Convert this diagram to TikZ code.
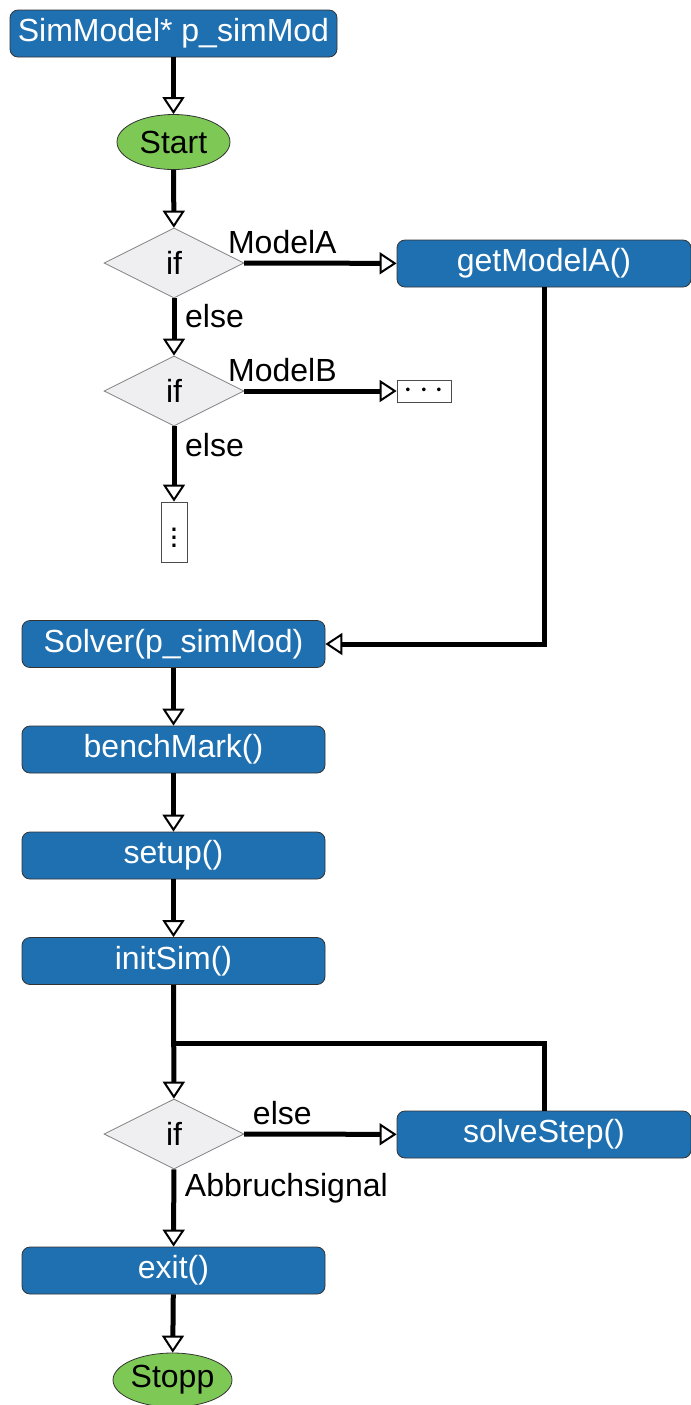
\documentclass[tikz,border=0pt]{standalone}
\usepackage{fontspec}
\setmainfont{Liberation Sans}
\usetikzlibrary{shapes.geometric,arrows.meta}
\definecolor{boxblue}{RGB}{31,112,177}
\definecolor{termgreen}{RGB}{126,201,86}
\definecolor{ifgrey}{RGB}{239,239,242}

\begin{document}
\begin{tikzpicture}[x=0.5pt,y=-0.5pt,every node/.style={font=\fontsize{16}{19}\selectfont}]

\tikzset{BoxStyle/.style={draw=black!80,fill=boxblue,text=white,rounded corners=4pt,minimum height=23.5pt,inner sep=0pt},
  TermStyle/.style={draw=black!80,ellipse,fill=termgreen,inner sep=0pt},
  IfStyle/.style={draw=black!50,diamond,fill=ifgrey,aspect=2,minimum width=70pt,minimum height=35pt,inner sep=0pt},
  DotStyle/.style={draw=black!70,fill=white,inner sep=0pt},
  EdgeStyle/.style={line width=2.5pt,-{Triangle[open,length=8.5pt,width=11pt,line width=1pt]}}}
  \useasboundingbox (0,0) rectangle (691,1405);

  \node[BoxStyle,minimum width=163.5pt] (sm) at (173.5,33.5) {SimModel* p\_simMod};
  \node[TermStyle,minimum width=56.5pt,minimum height=27.5pt] (st) at (173.5,142) {Start};

  \node[IfStyle] (if1) at (174,263) {if};
  \node[BoxStyle,minimum width=147pt] (ga) at (544,263.5) {getModelA()};
  \node[IfStyle] (if2) at (174,391) {if};
  \node[DotStyle,minimum width=27pt,minimum height=11pt] (dh) at (424,391) {$\cdots$};
  \node[DotStyle,minimum width=13pt,minimum height=30pt] (dv) at (174,532) {$\vdots$};

  \node[BoxStyle,minimum width=151.5pt] (sv) at (173.5,644) {Solver(p\_simMod)};
  \node[BoxStyle,minimum width=151.5pt] (bm) at (173.5,749.5) {benchMark()};
  \node[BoxStyle,minimum width=151.5pt] (su) at (173.5,855.5) {setup()};
  \node[BoxStyle,minimum width=151.5pt] (in) at (173.5,961) {initSim()};

  \coordinate (lp) at (174,1043);
  \node[IfStyle] (if3) at (174,1134) {if};
  \node[BoxStyle,minimum width=147pt] (ss) at (544,1134.5) {solveStep()};
  \node[BoxStyle,minimum width=151.5pt] (ex) at (173.5,1270.5) {exit()};
  \node[TermStyle,minimum width=59.5pt,minimum height=27pt] (sp) at (172.5,1380) {Stopp};

  \draw[EdgeStyle] (sm) -- (st);
  \draw[EdgeStyle] (st) -- (if1);
  \draw[EdgeStyle] (if1) -- node[above,pos=0.25] {ModelA} (ga);
  \draw[EdgeStyle] (if1) -- node[right,pos=0.3,xshift=1pt] {else} (if2);
  \draw[EdgeStyle] (if2) -- node[above,pos=0.25] {ModelB} (dh);
  \draw[EdgeStyle] (if2) -- node[right,pos=0.25,xshift=1pt] {else} (dv);

  \draw[EdgeStyle] (ga.south) |- (sv);
  \draw[EdgeStyle] (sv) -- (bm);
  \draw[EdgeStyle] (bm) -- (su);
  \draw[EdgeStyle] (su) -- (in);

  \draw[EdgeStyle] (in) -- (if3);
  \draw[line width=2.5pt] (ss) |- (lp);
  \draw[EdgeStyle] (if3) -- node[above,pos=0.25] {else} (ss);
  \draw[EdgeStyle] (if3) -- node[right,pos=0.24,xshift=1pt] {Abbruchsignal} (ex);
  \draw[EdgeStyle] (ex) -- (sp);

\end{tikzpicture}
\end{document}
